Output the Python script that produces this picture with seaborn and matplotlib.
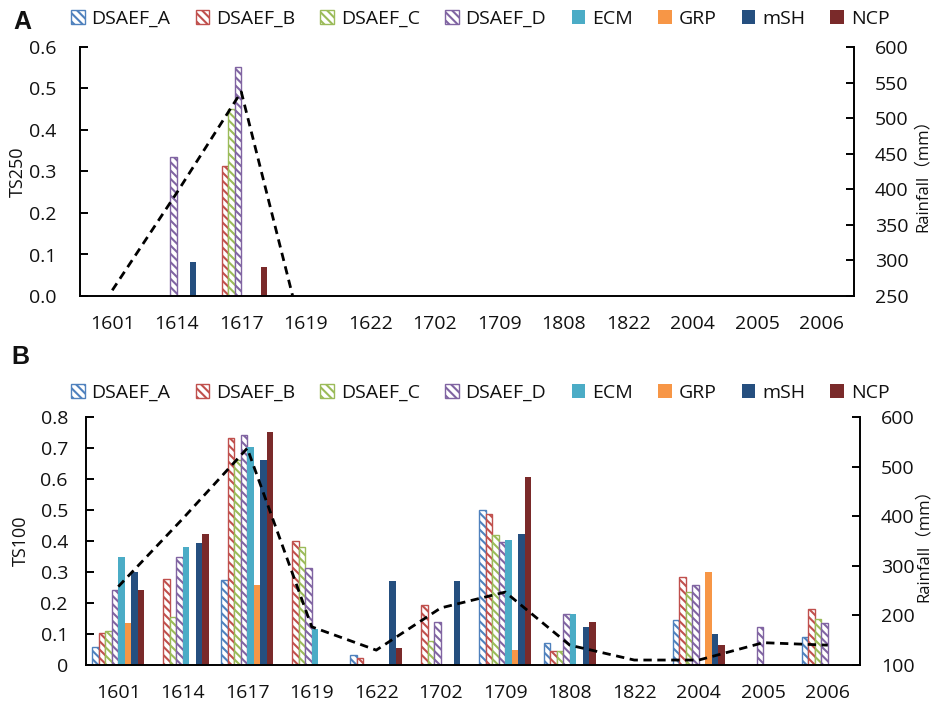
import matplotlib
matplotlib.use('Agg')
import matplotlib.pyplot as plt
from matplotlib.patches import Patch
from matplotlib.ticker import FixedLocator, FuncFormatter, MultipleLocator
import numpy as np
import pandas as pd
import seaborn as sns

sns.set_style('white')
plt.rcParams['font.family'] = ['Open Sans', 'Noto Sans CJK SC', 'DejaVu Sans']
plt.rcParams['hatch.linewidth'] = 1.5
plt.rcParams['text.color'] = '#111111'
plt.rcParams['axes.labelcolor'] = '#111111'
plt.rcParams['xtick.color'] = '#111111'
plt.rcParams['ytick.color'] = '#111111'

events = ['1601', '1614', '1617', '1619', '1622', '1702',
          '1709', '1808', '1822', '2004', '2005', '2006']
models = ['DSAEF_A', 'DSAEF_B', 'DSAEF_C', 'DSAEF_D', 'ECM', 'GRP', 'mSH', 'NCP']
colors = ['#4F81BD', '#C0504D', '#9BBB59', '#8064A2',
          '#4BACC6', '#F79646', '#254F7F', '#7A2A2A']
hatched = ['DSAEF_A', 'DSAEF_B', 'DSAEF_C', 'DSAEF_D']

# event rainfall (mm), shared by both panels
rainfall = [258, 395, 537, 177, 130, 215, 247, 140, 110, 110, 145, 140]

# TS250 (panel A)
ts250 = {
    'DSAEF_A': [0, 0, 0, 0, 0, 0, 0, 0, 0, 0, 0, 0],
    'DSAEF_B': [0, 0, 0.314, 0, 0, 0, 0, 0, 0, 0, 0, 0],
    'DSAEF_C': [0, 0, 0.451, 0, 0, 0, 0, 0, 0, 0, 0, 0],
    'DSAEF_D': [0, 0.335, 0.552, 0, 0, 0, 0, 0, 0, 0, 0, 0],
    'ECM':     [0, 0, 0, 0, 0, 0, 0, 0, 0, 0, 0, 0],
    'GRP':     [0, 0, 0, 0, 0, 0, 0, 0, 0, 0, 0, 0],
    'mSH':     [0, 0.083, 0, 0, 0, 0, 0, 0, 0, 0, 0, 0],
    'NCP':     [0, 0, 0.071, 0, 0, 0, 0, 0, 0, 0, 0, 0],
}

# TS100 (panel B)
ts100 = {
    'DSAEF_A': [0.059, 0, 0.274, 0, 0.032, 0, 0.500, 0.070, 0, 0.145, 0, 0.090],
    'DSAEF_B': [0.103, 0.276, 0.732, 0.400, 0.022, 0.192, 0.488, 0.044, 0, 0.285, 0, 0.181],
    'DSAEF_C': [0.111, 0.155, 0.660, 0.382, 0, 0.078, 0.419, 0.044, 0, 0.237, 0, 0.148],
    'DSAEF_D': [0.241, 0.347, 0.743, 0.314, 0, 0.138, 0.397, 0.166, 0, 0.259, 0.124, 0.137],
    'ECM':     [0.349, 0.381, 0.703, 0.117, 0, 0, 0.403, 0.164, 0, 0, 0, 0],
    'GRP':     [0.135, 0, 0.258, 0, 0, 0, 0.049, 0, 0, 0.299, 0, 0],
    'mSH':     [0.299, 0.395, 0.662, 0, 0.272, 0.272, 0.423, 0.124, 0, 0.099, 0, 0],
    'NCP':     [0.241, 0.422, 0.751, 0, 0.054, 0, 0.608, 0.140, 0, 0.065, 0, 0],
}

HATCH = '\\\\\\\\'
AX_LW = 1.4
TICK_FS = 14


def draw_panel(ax, values, ylim, ystep, yfmt, ylabel, rlim, rstep,
               lpad, ylab_x, rlab_x):
    df = pd.DataFrame(values, index=events).reset_index(names='event')
    long = df.melt(id_vars='event', var_name='model', value_name='ts')
    sns.barplot(data=long, x='event', y='ts', hue='model', order=events,
                hue_order=models, palette=colors, saturation=1, width=0.8,
                errorbar=None, legend=False, ax=ax)
    for cont, m, c in zip(ax.containers, models, colors):
        for bar in cont:
            if m in hatched:
                bar.set_facecolor('white')
                bar.set_edgecolor(c)
                bar.set_hatch(HATCH)
                bar.set_linewidth(1.0)
            else:
                bar.set_facecolor(c)
                bar.set_edgecolor('none')
                bar.set_linewidth(0)
            if bar.get_height() == 0:
                bar.set_visible(False)

    ax.set_xlim(-0.5, len(events) - 0.5)
    ax.set_ylim(*ylim)
    ax.yaxis.set_major_locator(MultipleLocator(ystep))
    ax.yaxis.set_major_formatter(FuncFormatter(yfmt))
    ax.set_xlabel('')
    ax.set_ylabel(ylabel, fontsize=13)
    ax.yaxis.set_label_coords(ylab_x, 0.5)

    ax.xaxis.set_minor_locator(FixedLocator(np.arange(-0.5, len(events), 1.0)))
    ax.tick_params(axis='x', which='major', length=0, pad=14, labelsize=TICK_FS)
    ax.tick_params(axis='x', which='minor', direction='out', length=6,
                   width=AX_LW, color='black')
    ax.tick_params(axis='y', direction='in', length=6, width=AX_LW,
                   pad=lpad, labelsize=TICK_FS, left=True, color='black')
    for side in ['left', 'bottom']:
        ax.spines[side].set_linewidth(AX_LW)
        ax.spines[side].set_color('black')
    ax.spines['top'].set_visible(False)
    ax.spines['right'].set_visible(False)

    ax2 = ax.twinx()
    sns.lineplot(x=np.arange(len(events)), y=rainfall, ax=ax2, color='black',
                 linewidth=2, dashes=False)
    ax2.lines[0].set_dashes((3, 2))
    ax2.set_ylim(*rlim)
    ax2.yaxis.set_major_locator(MultipleLocator(rstep))
    ax2.set_ylabel('Rainfall（mm）', fontsize=12)
    ax2.yaxis.set_label_coords(rlab_x, 0.5)
    ax2.tick_params(axis='y', direction='in', length=6, width=AX_LW,
                    pad=15, labelsize=TICK_FS, right=True, color='black')
    for side in ['top', 'left', 'bottom']:
        ax2.spines[side].set_visible(False)
    ax2.spines['right'].set_linewidth(AX_LW)
    ax2.spines['right'].set_color('black')
    return ax2


def legend_handles():
    handles = []
    for m, c in zip(models, colors):
        if m in hatched:
            handles.append(Patch(facecolor='white', edgecolor=c, hatch=HATCH,
                                 linewidth=1.0, label=m))
        else:
            handles.append(Patch(facecolor=c, edgecolor='none', label=m))
    return handles


W, H = 936, 704
fig = plt.figure(figsize=(W / 100, H / 100), dpi=100)

axA = fig.add_axes([80 / W, 1 - 296 / H, 774 / W, 249 / H])
draw_panel(axA, ts250, (0, 0.6), 0.1, lambda v, p: f'{v:.1f}', 'TS250',
           (250, 600), 50, 17, -0.068, 1.079)

axB = fig.add_axes([86 / W, 1 - 665 / H, 774 / W, 248 / H])
draw_panel(axB, ts100, (0, 0.8), 0.1, lambda v, p: f'{v:g}', 'TS100',
           (100, 600), 100, 13, -0.072, 1.072)

for y in [0.973, 1 - 393 / H]:
    fig.legend(handles=legend_handles(), loc='center', bbox_to_anchor=(0.513, y),
               ncol=8, frameon=False, fontsize=14, handlelength=0.7,
               handleheight=0.7, handletextpad=0.35, columnspacing=1.3)

fig.text(22 / W, 1 - 22 / H, 'A', fontsize=18, fontweight='bold',
         family='Liberation Sans', ha='center', va='center')
fig.text(20 / W, 1 - 357 / H, 'B', fontsize=18, fontweight='bold',
         family='Liberation Sans', ha='center', va='center')

fig.savefig('out.png', dpi=100)
